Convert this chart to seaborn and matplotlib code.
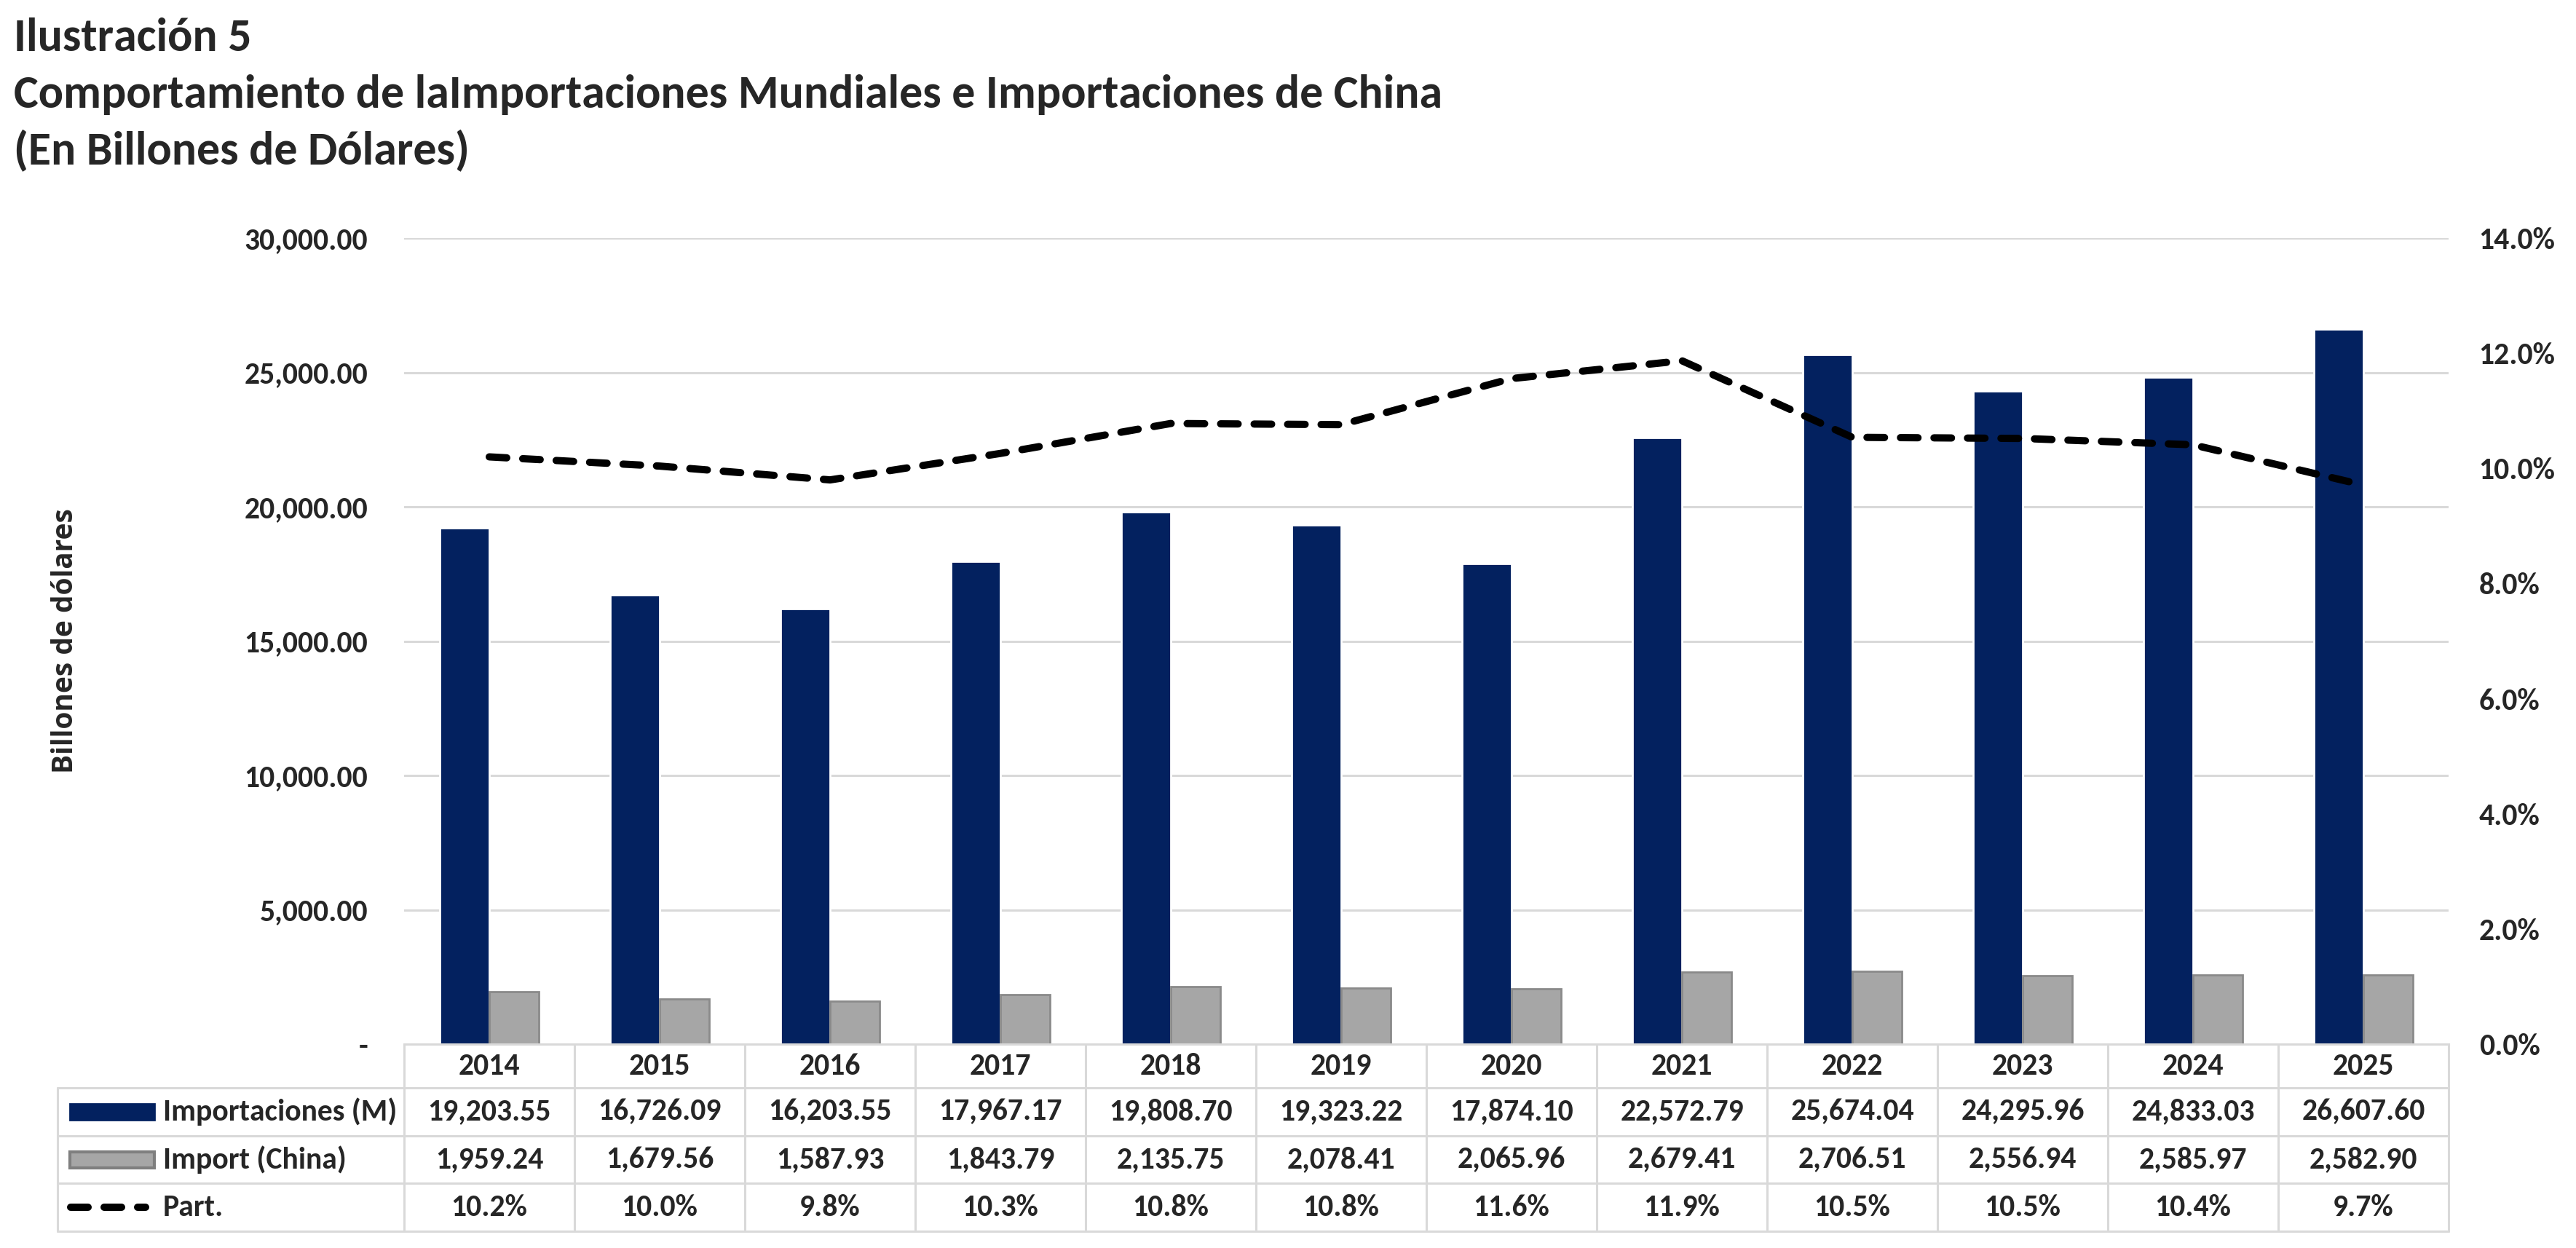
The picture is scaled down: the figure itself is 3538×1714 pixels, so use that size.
import numpy as np
import pandas as pd
import matplotlib
matplotlib.use("Agg")
import matplotlib.pyplot as plt
import seaborn as sns
from matplotlib.lines import Line2D
from matplotlib.patches import Rectangle
from matplotlib.ticker import PercentFormatter, FuncFormatter

# datos
years = ['2014', '2015', '2016', '2017', '2018', '2019',
         '2020', '2021', '2022', '2023', '2024', '2025']
imp_mundial = [19203.55, 16726.09, 16203.55, 17967.17, 19808.70, 19323.22,
               17874.10, 22572.79, 25674.04, 24295.96, 24833.03, 26607.60]
imp_china = [1959.24, 1679.56, 1587.93, 1843.79, 2135.75, 2078.41,
             2065.96, 2679.41, 2706.51, 2556.94, 2585.97, 2582.90]
part = [10.20, 10.04, 9.80, 10.26, 10.78, 10.76,
        11.56, 11.87, 10.54, 10.52, 10.41, 9.71]
series_names = ['Importaciones (M)', 'Import (China)', 'Part.']

NAVY = '#03215F'
GRAY = '#A6A6A6'
GRAY_EDGE = '#8A8A8A'
GRID = '#D9D9D9'
FS = 15

sns.set_style("white")
plt.rcParams['font.family'] = ['Carlito', 'Lato', 'DejaVu Sans']
plt.rcParams['font.weight'] = 'bold'

W, H = 3538, 1714
fig = plt.figure(figsize=(W / 200, H / 200), dpi=200)

# area del grafico en pixeles
L, R, T, B = 555, 3363, 327, 1434
ax = fig.add_axes([L / W, 1 - B / H, (R - L) / W, (B - T) / H])

df = pd.DataFrame({
    'year': years * 2,
    'serie': [series_names[0]] * len(years) + [series_names[1]] * len(years),
    'valor': imp_mundial + imp_china,
})
sns.barplot(data=df, x='year', y='valor', hue='serie', order=years,
            hue_order=series_names[:2], palette=[NAVY, GRAY],
            width=0.58, gap=0, saturation=1, legend=False, ax=ax)
for bar in ax.containers[1]:
    bar.set_edgecolor(GRAY_EDGE)
    bar.set_linewidth(1.0)

ax.set_xlim(-0.5, len(years) - 0.5)
ax.set_ylim(0, 30000)
ax.set_yticks(np.arange(0, 30001, 5000))
ax.yaxis.set_major_formatter(FuncFormatter(lambda v, p: '-' if v == 0 else f'{v:,.2f}'))
ax.set_xticks([])
ax.set_xlabel('')
ax.set_ylabel('')
ax.tick_params(axis='y', length=0, pad=18, labelsize=FS)
ax.grid(axis='y', color=GRID, linewidth=1.1)
ax.set_axisbelow(True)
for s in ['left', 'right', 'top']:
    ax.spines[s].set_visible(False)
ax.spines['bottom'].set_color(GRID)
ax.spines['bottom'].set_linewidth(1.1)

# linea de participacion
ax2 = ax.twinx()
sns.lineplot(x=np.arange(len(years)), y=np.array(part) / 100, ax=ax2,
             color='black', linewidth=3.6)
ln = ax2.lines[0]
ln.set_dashes([2.4, 2.2])
ln.set_dash_capstyle('round')
ax2.set_ylim(0, 0.14)
ax2.set_yticks(np.arange(0, 0.1401, 0.02))
ax2.yaxis.set_major_formatter(PercentFormatter(1, decimals=1))
ax2.tick_params(axis='y', length=0, pad=15, labelsize=FS)
ax2.set_ylabel('')
for s in ax2.spines.values():
    s.set_visible(False)
ax.set_xlim(-0.5, len(years) - 0.5)

# titulo
fig.text(19 / W, 1 - 70 / H, 'Ilustración 5', fontsize=23, fontweight='bold', va='baseline')
fig.text(19 / W, 1 - 148 / H,
         'Comportamiento de laImportaciones Mundiales e Importaciones de China',
         fontsize=23, fontweight='bold', va='baseline')
fig.text(19 / W, 1 - 226 / H, '(En Billones de Dólares)', fontsize=23,
         fontweight='bold', va='baseline')

fig.text(90 / W, 1 - (T + B) / 2 / H, 'Billones de dólares', rotation=90,
         fontsize=14, fontweight='bold', family=['Open Sans', 'DejaVu Sans'],
         ha='center', va='center')

# tabla de datos
def fx(px):
    return px / W

def fy(py):
    return 1 - py / H

rows = [1434, 1494, 1560, 1625, 1691]
TL = 79
cw = (R - L) / len(years)
lw_t = 1.1
for y in rows[1:]:
    fig.add_artist(Line2D([fx(TL), fx(R)], [fy(y), fy(y)], color=GRID, lw=lw_t))
fig.add_artist(Line2D([fx(TL), fx(TL)], [fy(rows[1]), fy(rows[-1])], color=GRID, lw=lw_t))
for i in range(len(years) + 1):
    x = L + i * cw
    fig.add_artist(Line2D([fx(x), fx(x)], [fy(rows[0]), fy(rows[-1])], color=GRID, lw=lw_t))

row_vals = [
    [f'{v:,.2f}' for v in imp_mundial],
    [f'{v:,.2f}' for v in imp_china],
    [f'{v:.1f}%' for v in part],
]
for i, yr in enumerate(years):
    cx = L + (i + 0.5) * cw
    fig.text(fx(cx), fy((rows[0] + rows[1]) / 2), yr, fontsize=FS,
             fontweight='bold', ha='center', va='center')
    for r, vals in enumerate(row_vals):
        fig.text(fx(cx), fy((rows[r + 1] + rows[r + 2]) / 2), vals[i], fontsize=FS,
                 fontweight='bold', ha='center', va='center')

# leyenda dentro de la tabla
for r, name in enumerate(series_names):
    cy = (rows[r + 1] + rows[r + 2]) / 2
    if r == 0:
        fig.add_artist(Rectangle((fx(96), fy(cy + 11)), fx(116), 22 / H,
                                 transform=fig.transFigure, color=NAVY))
    elif r == 1:
        fig.add_artist(Rectangle((fx(96), fy(cy + 11)), fx(116), 22 / H,
                                 transform=fig.transFigure, facecolor=GRAY,
                                 edgecolor='#7F7F7F', lw=1.5))
    else:
        dl = Line2D([fx(97), fx(200)], [fy(cy), fy(cy)], color='black', lw=3.6)
        dl.set_dashes([2.4, 2.2])
        dl.set_dash_capstyle('round')
        fig.add_artist(dl)
    fig.text(fx(224), fy(cy), name, fontsize=FS, fontweight='bold',
             ha='left', va='center')

fig.savefig('out.png', dpi=200)
